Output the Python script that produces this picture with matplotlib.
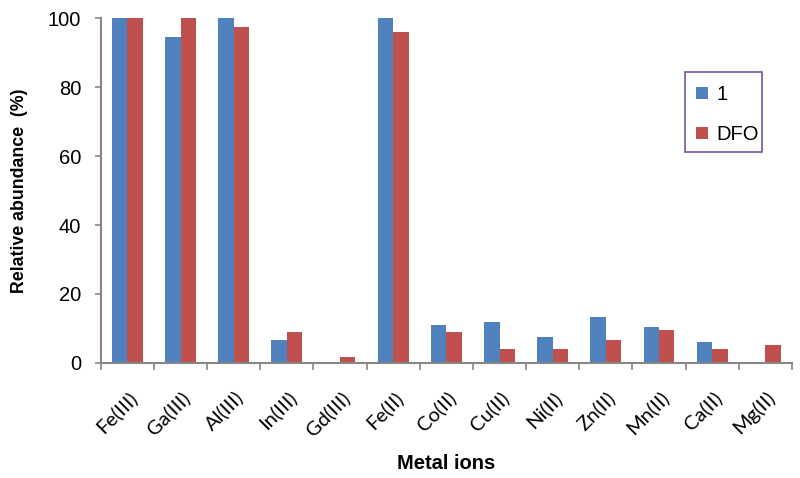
import matplotlib.pyplot as plt
import matplotlib.patches as mpatches
import matplotlib.transforms as mtransforms
import numpy as np

IONS = ['Fe(III)', 'Ga(III)', 'Al(III)', 'In(III)', 'Gd(III)', 'Fe(II)', 'Co(II)',
        'Cu(II)', 'Ni(II)', 'Zn(II)', 'Mn(II)', 'Ca(II)', 'Mg(II)']
ABUND_1 = [100, 94.5, 100, 6.6, 0, 100, 11, 12, 7.6, 13.4, 10.5, 6.2, 0]
ABUND_DFO = [100, 100, 97.5, 9.1, 1.8, 96, 9.1, 4.2, 4.2, 6.7, 9.6, 4.2, 5.2]

BLUE = '#4F81BD'
RED = '#C0504D'
GRAY = '#868686'
SANS = ['Liberation Sans', 'DejaVu Sans']

fig = plt.figure(figsize=(8, 4.78), dpi=100)
ax = fig.add_axes([0.126, 0.2406, 0.864, 0.7217])

x = np.arange(len(IONS)) + 0.5
w = 0.29
ax.bar(x - w / 2, ABUND_1, w, color=BLUE, label='1')
ax.bar(x + w / 2, ABUND_DFO, w, color=RED, label='DFO')

ax.set_xlim(0, len(IONS))
ax.set_ylim(0, 100)
ax.set_yticks([0, 20, 40, 60, 80, 100])
ax.set_xticks(np.arange(len(IONS) + 1))
ax.set_xticklabels([])
ax.set_xticks(x, minor=True)
ax.set_xticklabels(IONS, minor=True, rotation=45, ha='right', rotation_mode='anchor',
                   fontsize=14.5, family=['Lato', 'DejaVu Sans'])
# nudge the rotated labels a few pixels left, as in the original
shift = mtransforms.ScaledTranslation(-4 / 100, 0, fig.dpi_scale_trans)
for lab in ax.get_xticklabels(minor=True):
    lab.set_transform(lab.get_transform() + shift)
ax.tick_params(axis='x', which='minor', length=0, pad=18)
ax.tick_params(axis='x', which='major', length=5, color=GRAY, width=1.2)
ax.tick_params(axis='y', length=4, color=GRAY, width=1.2, labelsize=14.5, pad=10)
for lab in ax.get_yticklabels():
    lab.set_family(SANS)

for s in ['top', 'right']:
    ax.spines[s].set_visible(False)
for s in ['left', 'bottom']:
    ax.spines[s].set_color(GRAY)
    ax.spines[s].set_linewidth(1.5)

ax.set_ylabel('Relative abundance  (%)', fontsize=12.8, fontweight='bold', family=SANS)
ax.yaxis.set_label_coords(-0.118, 0.5)
ax.yaxis.label.set_va('center')
ax.set_xlabel('Metal ions', fontsize=14.5, fontweight='bold', family=SANS)
ax.xaxis.set_label_coords(0.5, -0.29)
ax.xaxis.label.set_va('center')

leg = fig.legend(*ax.get_legend_handles_labels(), loc='upper left',
                 bbox_to_anchor=(696 / 800, 1 - 85 / 478), frameon=False,
                 handlelength=0.6, handleheight=0.6, labelspacing=1.05,
                 borderpad=0, handletextpad=0.4, borderaxespad=0,
                 prop={'family': SANS, 'size': 14.5})
fig.patches.append(mpatches.Rectangle((685 / 800, 1 - 152 / 478), 77 / 800, 80 / 478,
                                      transform=fig.transFigure, fill=False,
                                      edgecolor='#7F62A8', linewidth=1.3))

fig.savefig('out.png', dpi=100)
